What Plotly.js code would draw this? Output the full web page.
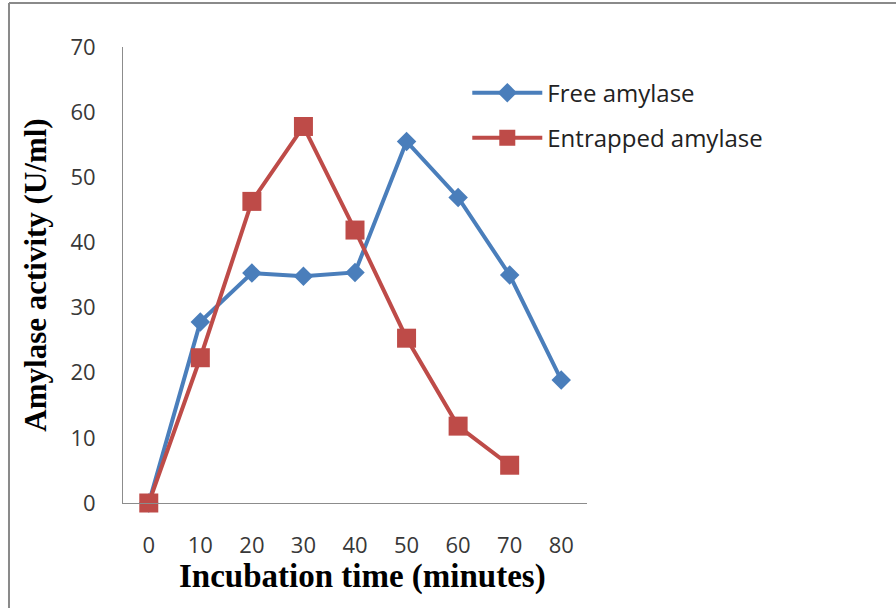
<!DOCTYPE html>
<html><head><meta charset="utf-8">
<script src="https://cdn.plot.ly/plotly-3.0.1.min.js"></script>
<style>html,body{margin:0;padding:0;background:#fff;}#chart{width:896px;height:608px;}</style>
</head><body><div id="chart"></div>
<script>
const times = [0, 10, 20, 30, 40, 50, 60, 70, 80];
const freeTimes = [0, 10, 20, 30, 40, 50, 60, 70, 80];
const freeAmylase = [0, 27.8, 35.3, 34.8, 35.4, 55.5, 46.9, 35.0, 18.9];
const entrappedTimes = [0, 10, 20, 30, 40, 50, 60, 70];
const entrappedAmylase = [0, 22.3, 46.3, 57.8, 41.9, 25.3, 11.8, 5.8];
const yTicks = [0, 10, 20, 30, 40, 50, 60, 70];
const xTitle = 'Incubation time (minutes)';
const yTitle = 'Amylase activity (U/ml)';

const traces = [
  {x: freeTimes, y: freeAmylase, name: 'Free amylase', type: 'scatter', mode: 'lines+markers',
   line: {color: '#4A7EBB', width: 4}, marker: {symbol: 'diamond', size: 15, color: '#4A7EBB'},
   legend: 'legend', cliponaxis: false},
  {x: entrappedTimes, y: entrappedAmylase, name: 'Entrapped amylase', type: 'scatter', mode: 'lines+markers',
   line: {color: '#BE4B48', width: 4}, marker: {symbol: 'square', size: 19, color: '#BE4B48'},
   legend: 'legend2', cliponaxis: false}
];

const tickFont = {family: '"Open Sans", sans-serif', size: 22, color: '#383838'};
const titleFont = {family: '"Liberation Serif", "Times New Roman", serif', size: 31, color: '#000', weight: 'bold'};
const xTitleFont = {family: '"Liberation Serif", "Times New Roman", serif', size: 33, color: '#000', weight: 'bold'};
const legFont = {family: '"Open Sans", sans-serif', size: 24, color: '#222'};

const layout = {
  width: 896, height: 608,
  margin: {l: 123, r: 309, t: 47, b: 105, autoexpand: false},
  paper_bgcolor: '#fff', plot_bgcolor: '#fff',
  showlegend: true,
  xaxis: {range: [-5, 85], tickvals: times, ticktext: times.map(String), showgrid: false, zeroline: false,
    showline: true, linecolor: '#8c8c8c', linewidth: 1, ticks: '', tickfont: tickFont, ticklabelstandoff: 23,
    automargin: false},
  yaxis: {range: [0, 70], tickvals: yTicks, showgrid: false, zeroline: false,
    showline: true, linecolor: '#8c8c8c', linewidth: 1, ticks: '', tickfont: tickFont, ticklabelstandoff: 22,
    automargin: false,
    title: {text: yTitle, font: titleFont, standoff: 14}},
  annotations: [
    {text: xTitle, xref: 'paper', yref: 'paper', x: 0.517, y: -0.162, xanchor: 'center', yanchor: 'middle',
     showarrow: false, font: xTitleFont}
  ],
  legend: {x: 0.742, y: 0.899, xanchor: 'left', yanchor: 'middle', font: legFont, bgcolor: 'rgba(0,0,0,0)', itemwidth: 70},
  legend2: {x: 0.742, y: 0.800, xanchor: 'left', yanchor: 'middle', font: legFont, bgcolor: 'rgba(0,0,0,0)', itemwidth: 70},
  shapes: [
    {type: 'line', xref: 'paper', yref: 'paper', x0: -0.2457, x1: -0.2457, y0: -0.3, y1: 1.0965, line: {color: '#8a8a8a', width: 2}},
    {type: 'line', xref: 'paper', yref: 'paper', x0: -0.2457, x1: 1.8, y0: 1.0965, y1: 1.0965, line: {color: '#8a8a8a', width: 2}}
  ]
};
Plotly.newPlot('chart', traces, layout, {displayModeBar: false, staticPlot: true});
</script></body></html>
